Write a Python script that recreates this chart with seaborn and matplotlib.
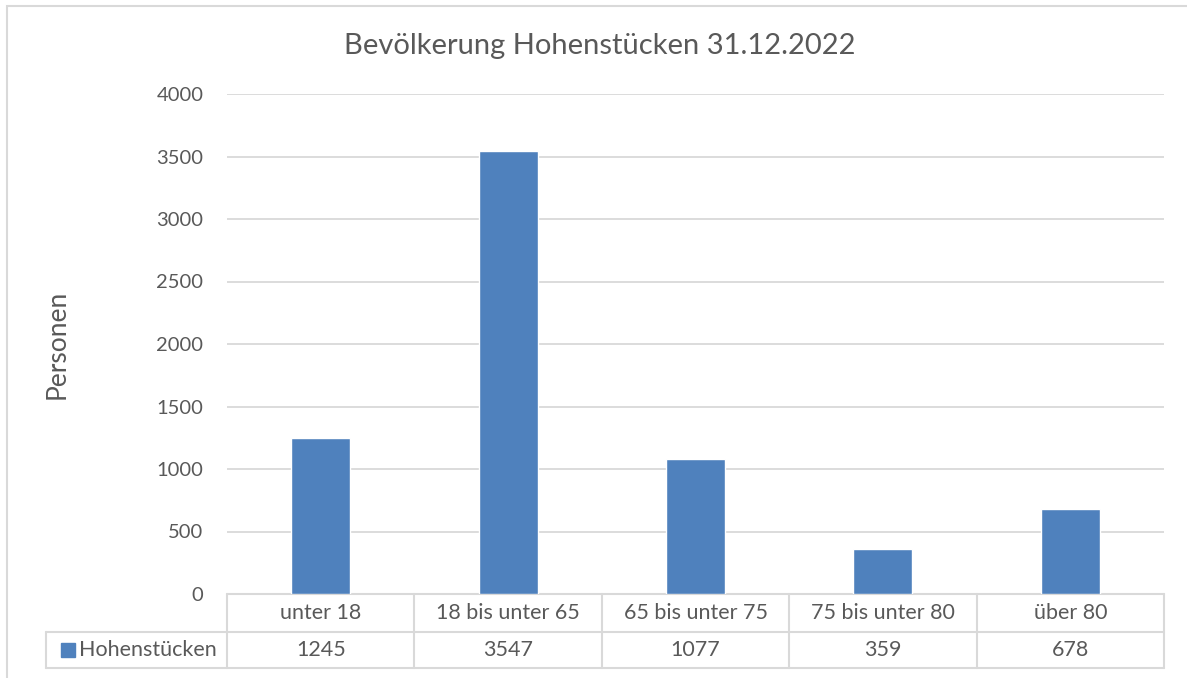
import matplotlib
matplotlib.use("Agg")
import matplotlib.pyplot as plt
import matplotlib.transforms as mtransforms
from matplotlib.patches import Rectangle
import pandas as pd
import seaborn as sns

# Daten
kategorien = ['unter 18', '18 bis unter 65', '65 bis unter 75', '75 bis unter 80', 'über 80']
werte = [1245, 3547, 1077, 359, 678]
serie = 'Hohenstücken'
y_ticks = [0, 500, 1000, 1500, 2000, 2500, 3000, 3500, 4000]

BAR = '#4F81BD'
GRID = '#D9D9D9'
TEXT = '#595959'

sns.set_theme(style='white')
plt.rcParams['font.family'] = ['Lato', 'DejaVu Sans']

W, H = 1187, 678
fig = plt.figure(figsize=(W / 100, H / 100), dpi=100)

# Diagrammbereich (Pixel)
left, right, top, bottom = 227, 1164, 94, 594
ax = fig.add_axes([left / W, 1 - bottom / H, (right - left) / W, (bottom - top) / H])

df = pd.DataFrame({'Altersgruppe': kategorien, 'Personen': werte})
sns.barplot(data=df, x='Altersgruppe', y='Personen', color=BAR, saturation=1,
            width=0.315, ax=ax, zorder=3)

ax.set_xlim(-0.5, len(kategorien) - 0.5)
ax.set_ylim(0, 4000)
ax.set_yticks(y_ticks)
ax.set_yticklabels([str(t) for t in y_ticks], fontsize=14.5, color=TEXT)
ax.set_xticks([])
ax.set_xlabel('')
ax.set_ylabel('')
ax.tick_params(axis='y', length=0, pad=17)
ax.grid(axis='y', color=GRID, linewidth=1.3, zorder=0)
for s in ax.spines.values():
    s.set_visible(False)

fig.text(57 / W, 1 - 344 / H, 'Personen', rotation=90, fontsize=19, color=TEXT,
         ha='center', va='center')
fig.text(600 / W, 1 - 46 / H, 'Bevölkerung Hohenstücken 31.12.2022', fontsize=21,
         color=TEXT, ha='center', va='center')

# Datentabelle unter dem Diagramm
trans = mtransforms.blended_transform_factory(ax.transData, ax.transAxes)
px = 1.0 / (bottom - top)
n = len(kategorien)
ux = n / (right - left)
r1 = -38 * px
r2 = -74 * px
leg_left = -0.5 - (left - 46) * ux
lk = dict(color=GRID, linewidth=1.5, transform=trans, clip_on=False, zorder=1)
ax.plot([-0.5, n - 0.5], [0, 0], **lk)
ax.plot([leg_left, n - 0.5], [r1, r1], **lk)
ax.plot([leg_left, n - 0.5], [r2, r2], **lk)
ax.plot([leg_left, leg_left], [r1, r2], **lk)
for i in range(n + 1):
    ax.plot([i - 0.5, i - 0.5], [0, r2], **lk)
for i, (k, v) in enumerate(zip(kategorien, werte)):
    ax.text(i, r1 / 2, k, transform=trans, ha='center', va='center', fontsize=15.5, color=TEXT)
    ax.text(i, (r1 + r2) / 2, str(v), transform=trans, ha='center', va='center',
            fontsize=15.5, color=TEXT)
ax.add_patch(Rectangle((leg_left + 15 * ux, (r1 + r2) / 2 - 7 * px), 14 * ux, 14 * px,
                       transform=trans, color=BAR, clip_on=False))
ax.text(leg_left + 33 * ux, (r1 + r2) / 2, serie, transform=trans, ha='left', va='center',
        fontsize=15.5, color=TEXT)

# Rahmen
fig.patches.append(Rectangle((7 / W, -0.1), 1.2, 1.1 - 6 / H, transform=fig.transFigure,
                             fill=False, edgecolor=GRID, linewidth=1.5))

fig.savefig('out.png', dpi=100)
